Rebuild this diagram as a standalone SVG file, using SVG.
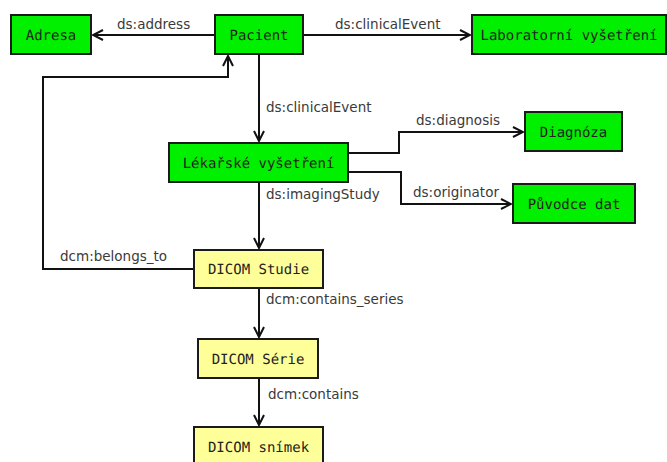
<svg xmlns="http://www.w3.org/2000/svg" width="667" height="462" viewBox="0 0 667 462">
  <style>
    .node rect { stroke: #1a1a1a; stroke-width: 2; }
    .green rect { fill: #00f000; }
    .yellow rect { fill: #ffff99; }
    .node text { font-family: "DejaVu Sans Mono", "Liberation Mono", monospace; font-size: 14px; fill: #222; text-anchor: middle; text-rendering: geometricPrecision; }
    .edge { fill: none; stroke: #111; stroke-width: 2; marker-end: url(#arrow); }
    .elabel { font-family: "DejaVu Sans", "Liberation Sans", sans-serif; font-size: 13.5px; fill: #3a3a3a; }
  </style>
  <defs>
    <marker id="arrow" markerUnits="userSpaceOnUse" markerWidth="14" markerHeight="14" viewBox="-12 -7 14 14" refX="0" refY="0" orient="auto">
      <path d="M-10,-5 L0,0 L-10,5" fill="none" stroke="#111" stroke-width="2"/>
    </marker>
  </defs>
  <rect width="667" height="462" fill="#ffffff"/>

  <g id="connectors">
    <path class="edge" d="M215,35 H93"/>
    <path class="edge" d="M303,35 H470"/>
    <path class="edge" d="M259,54 V141"/>
    <path class="edge" d="M348,153 H399 V132 H523"/>
    <path class="edge" d="M348,172 H401 V204 H511"/>
    <path class="edge" d="M259,182 V248"/>
    <path class="edge" d="M194,269 H43 V77 H228 V56"/>
    <path class="edge" d="M259,288 V337"/>
    <path class="edge" d="M259,378 V425"/>
    <text class="elabel" x="117" y="29">ds:address</text>
    <text class="elabel" x="335" y="29">ds:clinicalEvent</text>
    <text class="elabel" x="266" y="112">ds:clinicalEvent</text>
    <text class="elabel" x="416" y="125">ds:diagnosis</text>
    <text class="elabel" x="266" y="199">ds:imagingStudy</text>
    <text class="elabel" x="413" y="197">ds:originator</text>
    <text class="elabel" x="60" y="261">dcm:belongs_to</text>
    <text class="elabel" x="266" y="304">dcm:contains_series</text>
    <text class="elabel" x="268" y="399">dcm:contains</text>
  </g>

  <g id="adresa" class="node green">
    <rect x="11" y="15" width="80" height="39"/>
    <text x="51" y="39.5">Adresa</text>
  </g>
  <g id="pacient" class="node green">
    <rect x="215" y="15" width="88" height="39"/>
    <text x="259" y="39.5">Pacient</text>
  </g>
  <g id="laboratorni-vysetreni" class="node green">
    <rect x="472" y="15" width="194" height="39"/>
    <text x="569" y="39.5">Laboratorní vyšetření</text>
  </g>
  <g id="lekarske-vysetreni" class="node green">
    <rect x="169" y="143" width="179" height="39"/>
    <text x="258.5" y="167.5">Lékařské vyšetření</text>
  </g>
  <g id="diagnoza" class="node green">
    <rect x="525" y="112" width="97" height="39"/>
    <text x="573.5" y="136.5">Diagnóza</text>
  </g>
  <g id="puvodce-dat" class="node green">
    <rect x="513" y="184" width="122" height="39"/>
    <text x="574" y="208.5">Původce dat</text>
  </g>
  <g id="dicom-studie" class="node yellow">
    <rect x="194" y="250" width="129" height="38"/>
    <text x="258.5" y="274">DICOM Studie</text>
  </g>
  <g id="dicom-serie" class="node yellow">
    <rect x="198" y="339" width="120" height="39"/>
    <text x="258" y="363.5">DICOM Série</text>
  </g>
  <g id="dicom-snimek" class="node yellow">
    <rect x="194" y="427" width="129" height="39"/>
    <text x="258.5" y="451.5">DICOM snímek</text>
  </g>
</svg>
